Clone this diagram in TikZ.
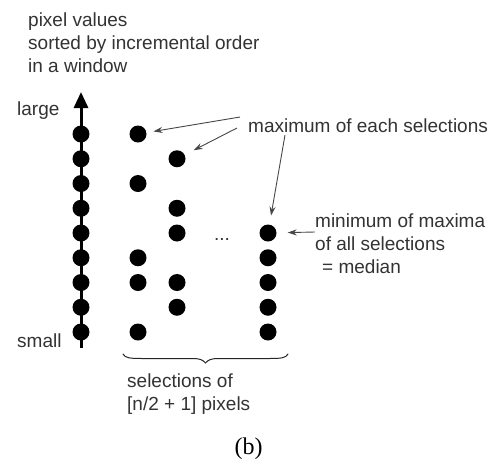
\documentclass[tikz,border=0pt]{standalone}
\usepackage{fontspec}
\setmainfont{Liberation Sans}
\newfontfamily\capfont{Liberation Serif}
\usetikzlibrary{arrows.meta}
\begin{document}
\begin{tikzpicture}[x=1pt,y=-1pt,
  dot/.style={circle,fill=black,inner sep=0pt,minimum size=17pt},
  lbl/.style={anchor=base west,inner sep=0pt,text=black!80,font=\fontsize{19}{23}\selectfont},
  ptr/.style={draw=black!72,line width=0.9pt,-{Stealth[length=9pt,width=6pt]}},
  axis/.style={draw=black,line width=3pt,-{Triangle[length=16pt,width=14pt]}},
  bracestyle/.style={draw=black!85,line width=1pt,line cap=round}
]
\useasboundingbox[fill=white] (0,0) rectangle (493,459);

% axis
\coordinate (axbot) at (81,348);
\coordinate (axtop) at (81,92);
\draw[axis] (axbot) -- (axtop);

% column 1 (sorted values)
\foreach \k in {0,...,8} {
  \node[dot] (a\k) at (81,134+\k*24.75) {};
}
% column 2
\foreach \k/\n in {0/b0,2/b1,5/b2,6/b3,8/b4} {
  \node[dot] (\n) at (138,134+\k*24.75) {};
}
% column 3
\foreach \k/\n in {1/c0,3/c1,4/c2,6/c3,7/c4} {
  \node[dot] (\n) at (177,134+\k*24.75) {};
}
% column 4
\foreach \k/\n in {4/d0,5/d1,6/d2,7/d3,8/d4} {
  \node[dot] (\n) at (268,134+\k*24.75) {};
}
\node[lbl,anchor=base] (ell) at (222,240) {...};

% texts
\node[lbl] (t1) at (28,26) {pixel values};
\node[lbl] (t2) at (28,49) {sorted by incremental order};
\node[lbl] (t3) at (28,72) {in a window};
\node[lbl] (large) at (17,115) {large};
\node[lbl] (small) at (17,347) {small};
\node[lbl] (maxtxt) at (248,132) {maximum of each selections};
\node[lbl] (min1) at (315,227) {minimum of maxima};
\node[lbl] (min2) at (315,250) {of all selections};
\node[lbl] (min3) at (322,273) {= median};
\node[lbl] (sel1) at (127,387) {selections of};
\node[lbl] (sel2) at (127,410) {[n/2 + 1] pixels};
\node[anchor=base,inner sep=0pt,font=\capfont\fontsize{24}{28}\selectfont] (cap) at (248.5,454) {(b)};

% pointers
\coordinate (m1) at (240,117);
\coordinate (m2) at (237,128);
\coordinate (m3) at (285,135);
\coordinate (m4) at (315,232);
\draw[ptr,shorten >=7pt] (m1) -- (b0);
\draw[ptr,shorten >=10pt] (m2) -- (c0);
\draw[ptr,shorten >=9pt] (m3) -- (d0);
\draw[ptr,shorten >=11pt] (m4) -- (d0);

% brace
\draw[bracestyle] (123,354) .. controls (125,358) and (130,358.5) .. (142,358.5)
  -- (193,358.5) .. controls (200,358.5) and (203,360) .. (205.5,363)
  .. controls (208,360) and (211,358.5) .. (218,358.5)
  -- (269,358.5) .. controls (281,358.5) and (286,358) .. (288,354);
\end{tikzpicture}
\end{document}
